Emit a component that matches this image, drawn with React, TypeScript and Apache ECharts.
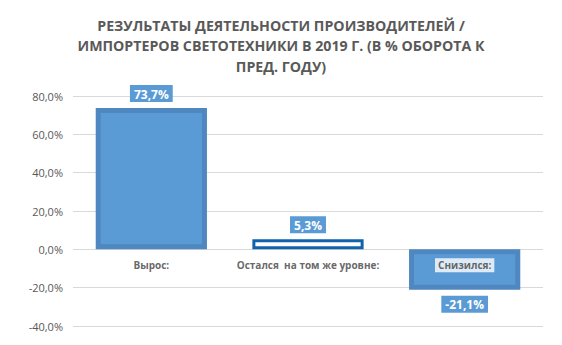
import React, { useEffect, useRef } from "react";
import * as echarts from "echarts";

const titleText = "РЕЗУЛЬТАТЫ ДЕЯТЕЛЬНОСТИ ПРОИЗВОДИТЕЛЕЙ /\nИМПОРТЕРОВ СВЕТОТЕХНИКИ В 2019 Г. (В % ОБОРОТА К\nПРЕД. ГОДУ)";
const categories = ["Вырос:", "Остался  на том же уровне:", "Снизился:"];
const values = [73.7, 5.3, -21.1];
const yMin = -40;
const yMax = 80;
const yStep = 20;

const fmt = (v: number) => v.toFixed(1).replace(".", ",") + "%";

export default function App() {
  const ref = useRef<HTMLDivElement>(null);
  useEffect(() => {
    const chart = echarts.init(ref.current!, null, { renderer: "svg" });
    const data = values.map((v, i) => {
      const outline = i === 1;
      return {
        value: v,
        itemStyle: outline
          ? { color: "#ffffff", borderColor: "#1163ad", borderWidth: 3 }
          : { color: "#5b9bd5", borderColor: "#4f87c0", borderWidth: 5 },
        label: { position: v >= 0 ? "top" : "bottom" },
      };
    });
    chart.setOption({
      animation: false,
      title: {
        text: titleText,
        left: "center",
        top: 10,
        textStyle: {
          fontFamily: "Open Sans",
          fontWeight: "bold",
          fontSize: 14.2,
          lineHeight: 20.5,
          color: "#595959",
        },
      },
      grid: { left: 73, right: 19, top: 96, bottom: 19, outerBoundsMode: "none", containLabel: false },
      xAxis: {
        type: "category",
        data: categories,
        axisLine: { show: false },
        axisTick: { show: false },
        axisLabel: { show: false },
      },
      yAxis: {
        type: "value",
        min: yMin,
        max: yMax,
        interval: yStep,
        axisLine: { show: false },
        axisTick: { show: false },
        splitLine: { lineStyle: { color: "#d9d9d9", width: 1 } },
        axisLabel: {
          formatter: (v: number) => fmt(v),
          fontFamily: "Open Sans",
          fontSize: 11,
          color: "#595959",
          margin: 10,
        },
      },
      series: [
        {
          type: "bar",
          data,
          barWidth: "71%",
          label: {
            show: true,
            formatter: (p: any) => fmt(p.value),
            backgroundColor: "#5b9bd5",
            color: "#ffffff",
            fontFamily: "Open Sans",
            fontWeight: "bold",
            fontSize: 12,
            padding: [3, 4, 2, 4],
            distance: 6,
          },
        },
        {
          type: "scatter",
          data: categories.map((c) => [c, 0]),
          symbolSize: 0,
          z: 5,
          silent: true,
          label: {
            show: true,
            position: "bottom",
            distance: 9,
            formatter: (p: any) => p.name || p.value[0],
            fontFamily: "Open Sans",
            fontWeight: "bold",
            fontSize: 10,
            color: "#404040",
            backgroundColor: "#ffffff",
            padding: [2, 3],
          },
        },
      ],
    });
    return () => chart.dispose();
  }, []);
  return <div ref={ref} style={{ width: 562, height: 345, position: "absolute", left: 0, top: 0 }} />;
}
